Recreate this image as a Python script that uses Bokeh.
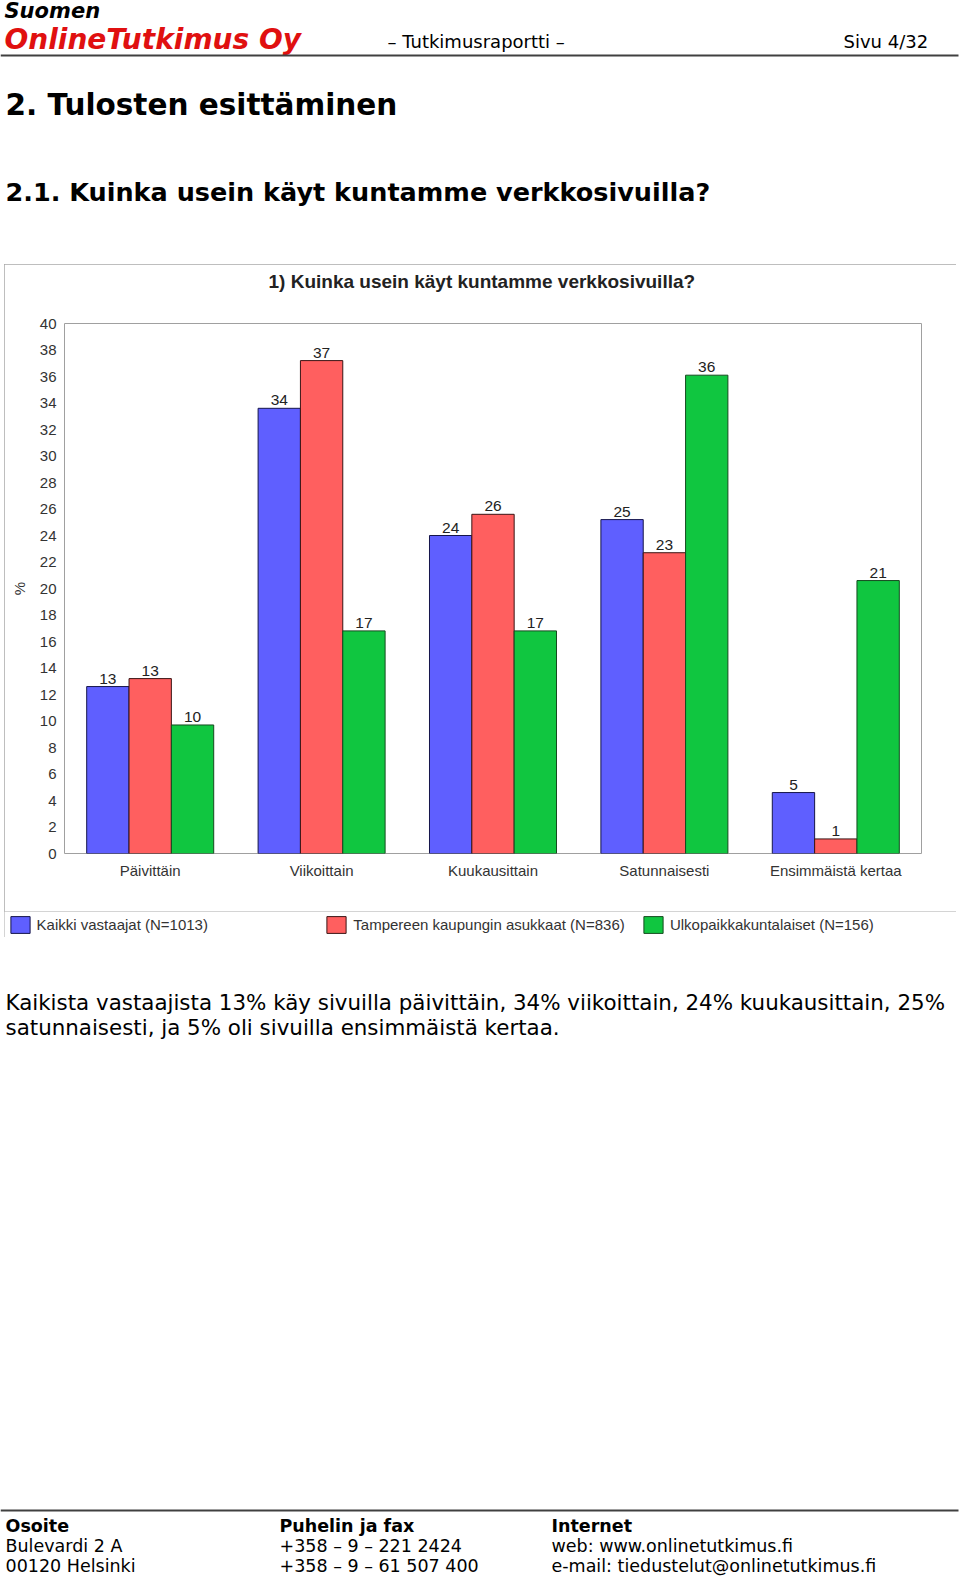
from bokeh.plotting import figure
from bokeh.models import Range1d, FactorRange, ColumnDataSource, Legend, LegendItem, FixedTicker, Spacer, Title
from bokeh.transform import dodge
from bokeh.layouts import column, row
from bokeh.embed import file_html
from bokeh.resources import INLINE
from bokeh.core.properties import value

# ---------------- data ----------------
categories = ["Päivittäin", "Viikoittain", "Kuukausittain", "Satunnaisesti", "Ensimmäistä kertaa"]
series_names = ["Kaikki vastaajat (N=1013)", "Tampereen kaupungin asukkaat (N=836)", "Ulkopaikkakuntalaiset (N=156)"]
kaikki = [12.6, 33.6, 24.0, 25.2, 4.6]
tampere = [13.2, 37.2, 25.6, 22.7, 1.1]
ulko = [9.7, 16.8, 16.8, 36.1, 20.6]
kaikki_labels = ["13", "34", "24", "25", "5"]
tampere_labels = ["13", "37", "26", "23", "1"]
ulko_labels = ["10", "17", "17", "36", "21"]
y_ticks = list(range(0, 41, 2))
chart_title = "1) Kuinka usein käyt kuntamme verkkosivuilla?"

# ---------------- styles ----------------
PAGE_FONT = "DejaVu Sans"
CHART_FONT = "Liberation Sans"
BAR_FILL = ["#5f5fff", "#ff5f5f", "#10c640"]
BAR_LINE = ["#15154a", "#3a1515", "#154a1f"]
BAR_W = 0.247
OFFSETS = [-BAR_W, 0.0, BAR_W]
LEGEND_X = [3.6, 320.3, 636.9]
BOX = "#a8a8a8"
OUTLINE = {"outline": "1px solid " + BOX, "outline-offset": "-1px"}


def page_fig(w, h):
    f = figure(width=w, height=h, x_range=Range1d(0, w), y_range=Range1d(h, 0),
               output_backend="svg", toolbar_location=None, min_border=0, frame_align=False)
    f.xaxis.visible = False
    f.yaxis.visible = False
    f.grid.visible = False
    f.outline_line_color = None
    return f


def add_text(f, x, y, txt, size, style="normal", color="black", font=PAGE_FONT):
    # y is the wanted baseline; the svg text is drawn ~0.38 em lower, so compensate
    f.text(x=[x], y=[y - 0.38 * size], text=[txt], text_font=value(font), text_font_size="%.1fpx" % size,
           text_font_style=style, text_color=color, text_baseline="alphabetic", text_align="left")


# ---------------- header ----------------
header = page_fig(960, 264)
add_text(header, 4, 18, "Suomen", 21, "bold italic")
add_text(header, 4, 50, "OnlineTutkimus Oy", 28, "bold italic", "#e01010")
add_text(header, 387, 48, "– Tutkimusraportti –", 18)
add_text(header, 843, 48, "Sivu 4/32", 18)
header.line(x=[0, 958], y=[55, 55], line_width=2, line_color="#404040")
add_text(header, 5, 116, "2. Tulosten esittäminen", 29.5, "bold")
add_text(header, 5, 201, "2.1. Kuinka usein käyt kuntamme verkkosivuilla?", 25.5, "bold")

# ---------------- chart ----------------
source = ColumnDataSource(dict(cat=categories, s0=kaikki, s1=tampere, s2=ulko,
                               l0=kaikki_labels, l1=tampere_labels, l2=ulko_labels))

chart = figure(width=952, height=647, x_range=FactorRange(factors=categories, range_padding=0),
               y_range=Range1d(0, 40), output_backend="svg", toolbar_location=None,
               min_border_left=60, min_border_right=35, min_border_top=59, min_border_bottom=58,
               title=None, frame_align=False)
chart.add_layout(Title(text=" ", text_font_size="2px", standoff=28), "above")
chart.add_layout(Title(text=chart_title, align="left", offset=204, standoff=0, text_font=CHART_FONT,
                       text_font_size="19px", text_font_style="bold", text_color="#222222"), "above")
chart.outline_line_color = "#a0a0a0"
chart.grid.visible = False

for i, key in enumerate(["s0", "s1", "s2"]):
    chart.vbar(x=dodge("cat", OFFSETS[i], range=chart.x_range), top=key, width=BAR_W,
               source=source, fill_color=BAR_FILL[i], line_color=BAR_LINE[i], line_width=1)
    chart.text(x=dodge("cat", OFFSETS[i], range=chart.x_range), y=key, text="l%d" % i,
               source=source, y_offset=-3, text_align="center", text_baseline="bottom",
               text_font=value(CHART_FONT), text_font_size="15.5px", text_color="#222222")

chart.yaxis.ticker = FixedTicker(ticks=y_ticks)
chart.yaxis.axis_label = "%"
chart.yaxis.axis_label_standoff = 9
chart.yaxis.axis_label_text_font = CHART_FONT
chart.yaxis.axis_label_text_font_size = "15px"
chart.yaxis.axis_label_text_font_style = "normal"
chart.yaxis.axis_label_text_color = "#333333"
for ax in (chart.xaxis, chart.yaxis):
    ax.axis_line_color = None
    ax.major_tick_line_color = None
    ax.minor_tick_line_color = None
    ax.major_tick_out = 0
    ax.major_tick_in = 0
    ax.minor_tick_out = 0
    ax.minor_tick_in = 0
    ax.major_label_text_font = CHART_FONT
    ax.major_label_text_font_size = "15px"
    ax.major_label_text_color = "#333333"
    ax.major_label_standoff = 8

# ---------------- legend strip (series keys; its bars lie outside its visible range) ----------------
legfig = figure(width=952, height=26, x_range=FactorRange(factors=categories, range_padding=0),
                y_range=Range1d(1000, 1026), output_backend="svg", toolbar_location=None,
                min_border=0, frame_align=False)
legfig.xaxis.visible = False
legfig.yaxis.visible = False
legfig.grid.visible = False
legfig.outline_line_color = None
legfig.styles = OUTLINE
for i, key in enumerate(["s0", "s1", "s2"]):
    key_r = legfig.vbar(x=dodge("cat", OFFSETS[i], range=legfig.x_range), top=key, width=BAR_W,
                        source=source, fill_color=BAR_FILL[i], line_color=BAR_LINE[i], line_width=1)
    lg = Legend(items=[LegendItem(label=series_names[i], renderers=[key_r])], location=(LEGEND_X[i], 2),
                orientation="horizontal", padding=0, margin=0, spacing=0, glyph_width=24, glyph_height=21,
                label_standoff=5, label_text_font=CHART_FONT, label_text_font_size="15px",
                label_height=17, label_text_color="#333333", background_fill_alpha=0, border_line_alpha=0)
    legfig.add_layout(lg, "center")

chart_box = column(chart, legfig, styles=OUTLINE)

# ---------------- body + footer ----------------
body = page_fig(960, 639)
add_text(body, 5, 73, "Kaikista vastaajista 13% käy sivuilla päivittäin, 34% viikoittain, 24% kuukausittain, 25%", 21.4)
add_text(body, 5, 98, "satunnaisesti, ja 5% oli sivuilla ensimmäistä kertaa.", 21.4)
body.line(x=[0, 958], y=[573, 573], line_width=2, line_color="#404040")
add_text(body, 5, 595, "Osoite", 17.5, "bold")
add_text(body, 5, 615, "Bulevardi 2 A", 17.5)
add_text(body, 5, 635, "00120 Helsinki", 17.5)
add_text(body, 279, 595, "Puhelin ja fax", 17.5, "bold")
add_text(body, 279, 615, "+358 – 9 – 221 2424", 17.5)
add_text(body, 279, 635, "+358 – 9 – 61 507 400", 17.5)
add_text(body, 551, 595, "Internet", 17.5, "bold")
add_text(body, 551, 615, "web: www.onlinetutkimus.fi", 17.5)
add_text(body, 551, 635, "e-mail: tiedustelut@onlinetutkimus.fi", 17.5)

layout = column(
    header,
    row(Spacer(width=4, height=673), chart_box),
    body,
    styles={"position": "absolute", "left": "0px", "top": "0px"},
)
open("out.html", "w").write(file_html(layout, INLINE))
